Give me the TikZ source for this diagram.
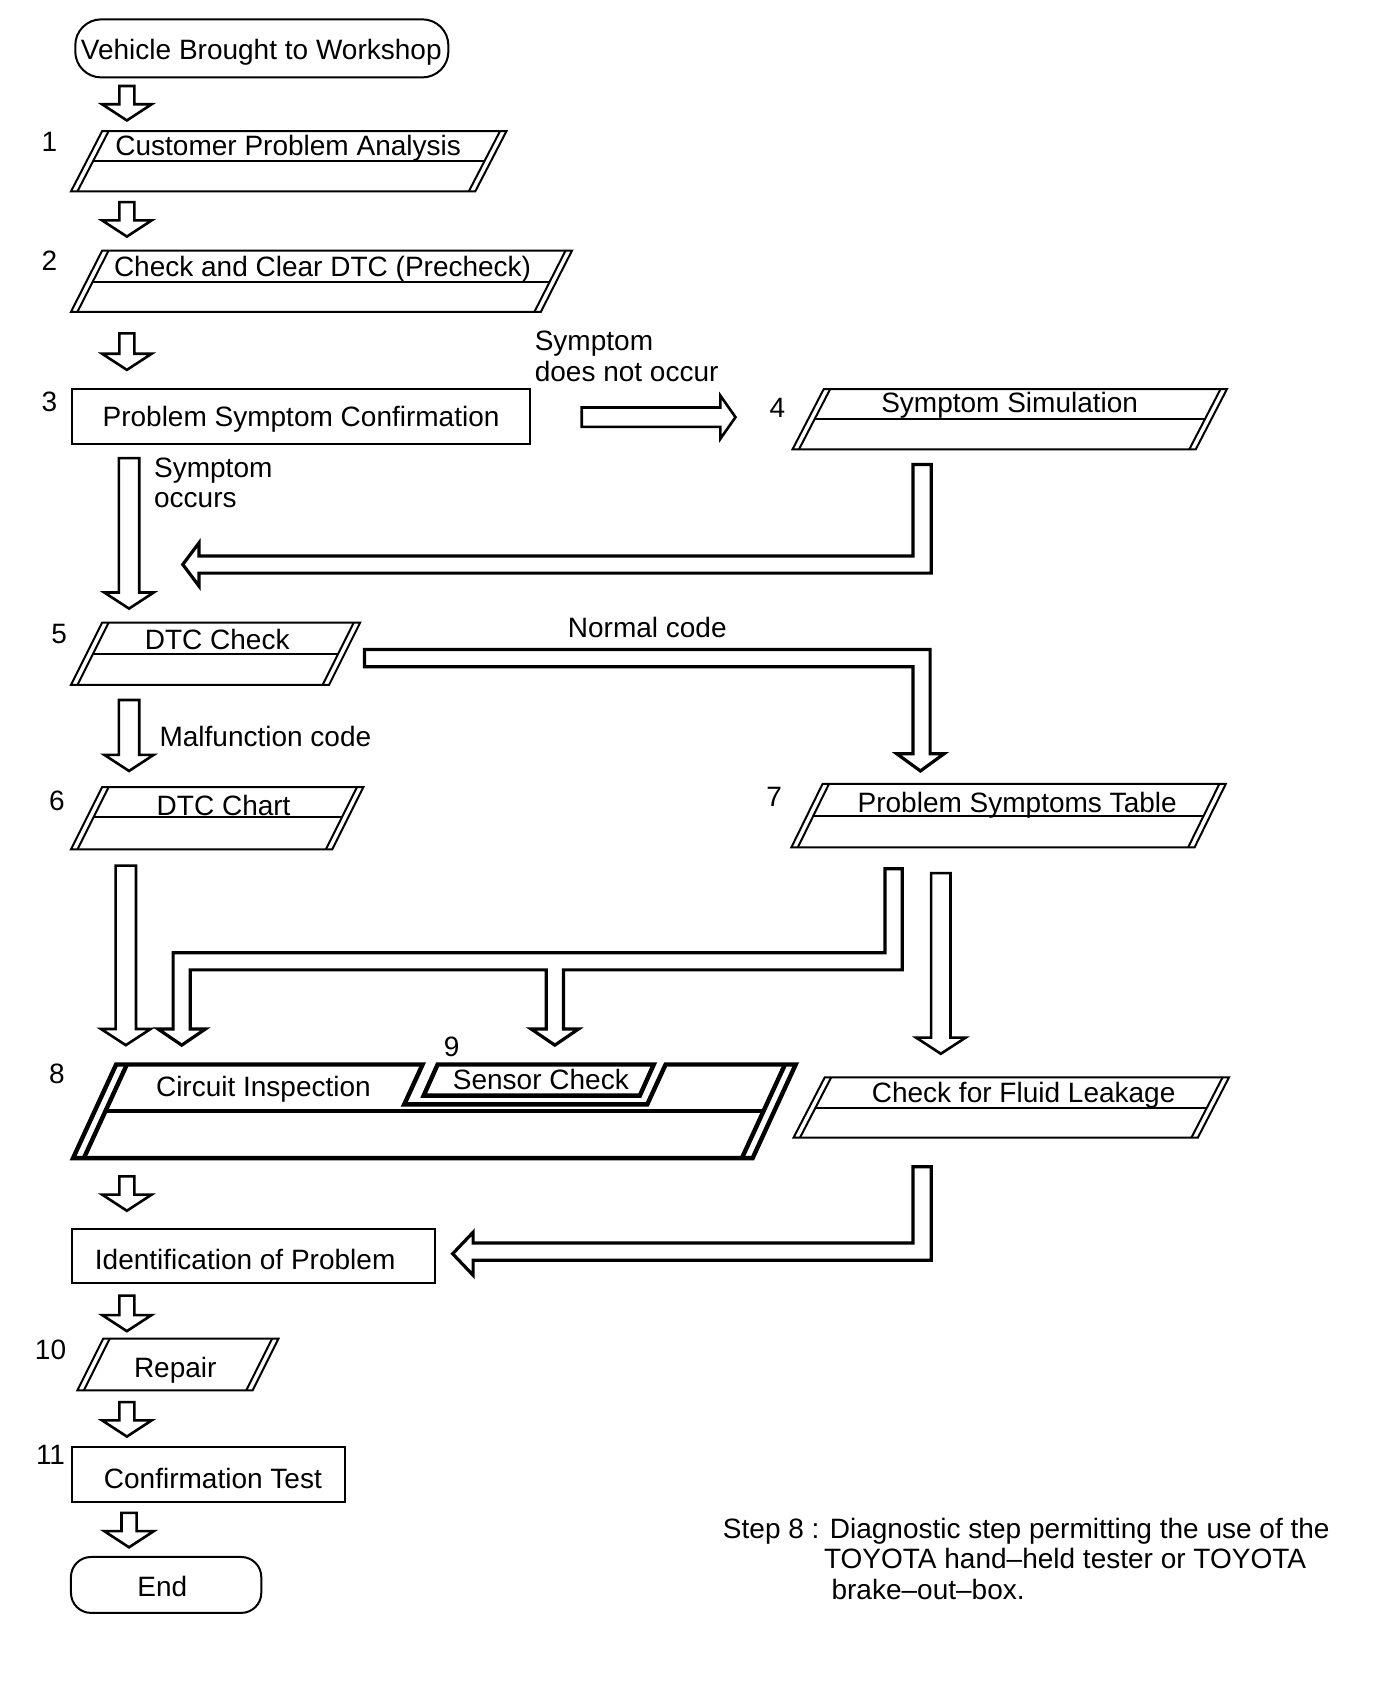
\documentclass[tikz,border=0pt]{standalone}
\usepackage{fontspec}
\setmainfont{Liberation Sans}
\newcommand\pgbox[6]{% TLx, top, TRx, bottom, slant, mid
  \draw[boxline] (#1,#2) -- (#3,#2) -- ({#3-#5},#4) -- ({#1-#5},#4) -- cycle;
  \draw[boxline] ({#1+6},#2) -- ({#1+6-#5},#4);
  \draw[boxline] ({#3-6},#2) -- ({#3-6-#5},#4);
  \draw[boxline] ({#1+6-#5*(#6-#2)/(#4-#2)},#6) -- ({#3-6-#5*(#6-#2)/(#4-#2)},#6);
}
\newcommand\dnarrow[4]{% cx, top, bottom, shaft half width
  \draw[barrow] ({#1-#4},#2) -- ({#1+#4},#2) -- ({#1+#4},{#3-15}) -- ({#1+23},{#3-15})
    -- (#1,#3) -- ({#1-23},{#3-15}) -- ({#1-#4},{#3-15}) -- cycle;
}
\begin{document}
\begin{tikzpicture}[x=0.5375pt,y=-0.5375pt,
  boxline/.style={line width=1pt, line join=miter},
  barrow/.style={draw, line width=1.3pt, fill=white, line join=miter},
  larrow/.style={draw, line width=1.6pt, fill=white, line join=miter},
  heavy/.style={line width=2.2pt, line join=miter},
  lbl/.style={inner sep=0pt, anchor=base, font=\fontsize{14pt}{15.6pt}\selectfont},
  lblw/.style={lbl, anchor=base west},
]
\useasboundingbox[fill=white] (0,0) rectangle (1294.6,1568);

% ---------- boxes ----------
\draw[boxline, rounded corners=13pt] (70,18) rectangle (417,72);
\node[lbl] (start) at (243,55) {Vehicle Brought to Workshop};

\pgbox{95}{122}{471}{178}{29}{150}
\node[lbl] (s1) at (268,145) {Customer Problem Analysis};
\node[lbl] (n1) at (46,141) {1};

\pgbox{95}{233}{532}{290}{29}{262}
\node[lbl] (s2) at (300,257) {Check and Clear DTC (Precheck)};
\node[lbl] (n2) at (46,252) {2};

\draw[boxline] (67,362) rectangle (493,413);
\node[lbl] (s3) at (280,397) {Problem Symptom Confirmation};
\node[lbl] (n3) at (46,383) {3};

\node[lblw] (l3a) at (497,326) {Symptom};
\node[lblw] (l3b) at (497,355) {does not occur};

\pgbox{766}{362}{1141}{418}{29}{390}
\node[lbl] (s4) at (939,384) {Symptom Simulation};
\node[lbl] (n4) at (723,388) {4};

\node[lblw] (l5a) at (143,444) {Symptom};
\node[lblw] (l5b) at (143,472) {occurs};

\pgbox{95}{579}{335}{637}{29}{608}
\node[lbl] (s5) at (202,604) {DTC Check};
\node[lbl] (n5) at (55,598) {5};

\node[lbl] (lnorm) at (602,593) {Normal code};
\node[lblw] (lmal) at (148,694) {Malfunction code};

\pgbox{95}{732}{338}{790}{29}{760}
\node[lbl] (s6) at (208,758) {DTC Chart};
\node[lbl] (n6) at (53,754) {6};

\pgbox{765}{729}{1140}{788}{29}{759}
\node[lbl] (s7) at (946,756) {Problem Symptoms Table};
\node[lbl] (n7) at (720,750) {7};

% step 8 / 9 box
\draw[heavy] (108,990) -- (393,990) -- (376,1027) -- (602,1027) -- (619,990)
  -- (740,990) -- (700,1077) -- (68,1077) -- cycle;
\draw[heavy] (118,990) -- (78,1077);
\draw[heavy] (730,990) -- (690,1077);
\draw[heavy] (98,1033) -- (710,1033);
\draw[heavy] (407,990) -- (608,990) -- (595,1019) -- (394,1019) -- cycle;
\node[lbl] (s8) at (245,1020) {Circuit Inspection};
\node[lbl] (s9) at (503,1013) {Sensor Check};
\node[lbl] (n8) at (53,1008) {8};
\node[lbl] (n9) at (420,983) {9};

\pgbox{767}{1002}{1143}{1058}{29}{1030}
\node[lbl] (sfl) at (952,1025) {Check for Fluid Leakage};

\draw[boxline] (67,1143) rectangle (405,1193);
\node[lbl] (sid) at (228,1181) {Identification of Problem};

% repair (no middle line)
\draw[boxline] (96,1245) -- (259,1245) -- (235,1293) -- (72,1293) -- cycle;
\draw[boxline] (102,1245) -- (78,1293);
\draw[boxline] (253,1245) -- (229,1293);
\node[lbl] (s10) at (163,1281) {Repair};
\node[lbl] (n10) at (47,1264) {10};

\draw[boxline] (67,1346) rectangle (321,1397);
\node[lbl] (s11) at (198,1384) {Confirmation Test};
\node[lbl] (n11) at (47,1362) {11};

\draw[boxline, rounded corners=10pt] (66,1448) rectangle (243,1500);
\node[lbl] (send) at (151,1485) {End};

\node[lblw] (note1) at (672,1431) {Step 8 : Diagnostic step permitting the use of the};
\node[lblw] (note2) at (766,1459) {TOYOTA hand–held tester or TOYOTA};
\node[lblw] (note3) at (773,1488) {brake–out–box.};

% ---------- block arrows ----------
\dnarrow{118}{80}{112}{7}
\dnarrow{118}{188}{220}{7}
\dnarrow{118}{310}{344}{7}
\dnarrow{120}{426}{566}{9.5}
\dnarrow{120}{651}{717}{9.5}
\dnarrow{117}{805}{972}{9.5}
\dnarrow{875}{812}{980}{9}
\dnarrow{118}{1094}{1126}{7}
\dnarrow{118}{1205}{1238}{7}
\dnarrow{118}{1304}{1336}{7}
\dnarrow{120}{1407}{1439}{7}

% symptom does not occur
\draw[barrow] (541,379) -- (670,379) -- (670,368) -- (684,388) -- (670,408) -- (670,397) -- (541,397) -- cycle;

% symptom simulation back to main line
\draw[larrow] (849,432) -- (866,432) -- (866,533) -- (185,533) -- (185,545) -- (170,525)
  -- (185,505) -- (185,517) -- (849,517) -- cycle;

% normal code
\draw[larrow] (339,604) -- (865,604) -- (865,701) -- (878,701) -- (856,717) -- (834,701)
  -- (849,701) -- (849,620) -- (339,620) -- cycle;

% problem symptoms table to circuit inspection / sensor check
\draw[larrow] (823,808) -- (839,808) -- (839,902) -- (524,902) -- (524,957) -- (538,957)
  -- (516,972) -- (494,957) -- (508,957) -- (508,902) -- (177,902) -- (177,957)
  -- (191,957) -- (169,972) -- (147,957) -- (161,957) -- (161,886) -- (823,886) -- cycle;

% fluid leakage to identification
\draw[larrow] (849,1085) -- (866,1085) -- (866,1172) -- (440,1172) -- (440,1186)
  -- (421,1166) -- (440,1146) -- (440,1156) -- (849,1156) -- cycle;
\end{tikzpicture}
\end{document}
